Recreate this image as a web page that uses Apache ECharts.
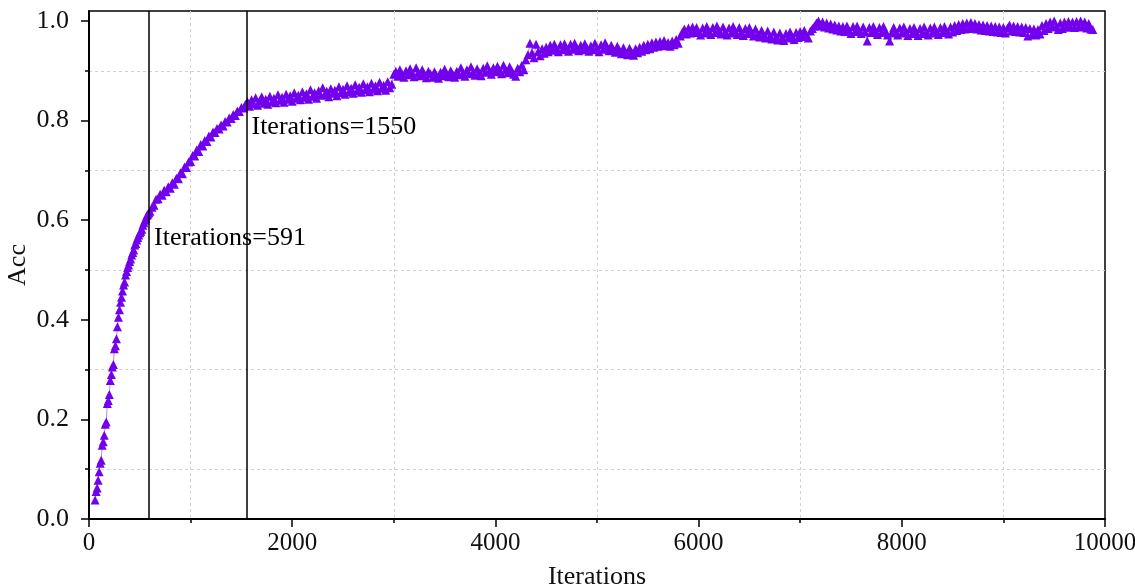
<!DOCTYPE html>
<html>
<head>
<meta charset="utf-8">
<script src="https://cdn.jsdelivr.net/npm/echarts@6/dist/echarts.min.js"></script>
<style>html,body{margin:0;padding:0;background:#fff}#c{width:1135px;height:586px}</style>
</head>
<body>
<div id="c"></div>
<script>
// Acc values, per segment: start iteration, step, values
const seg1Start = 60, seg1Step = 10;
const seg1 = [0.038,0.055,0.062,0.078,0.095,0.112,0.118,0.148,0.155,0.168,0.19,0.195,0.232,0.238,0.25,0.278,0.29,0.305,0.31,0.342,0.348,0.362,0.386,0.405,0.42,0.435,0.445,0.458,0.47,0.476,0.49,0.497,0.505,0.51,0.517,0.522,0.53,0.535,0.54,0.55,0.553,0.56,0.565,0.57,0.575,0.578,0.582,0.59,0.595,0.6,0.604,0.61,0.612,0.615,0.618];
const seg2Start = 620, seg2Step = 20;
const seg2 = [0.626,0.630,0.642,0.643,0.652,0.650,0.660,0.657,0.667,0.664,0.675,0.672,0.684,0.683,0.695,0.693,0.707,0.706,0.717,0.718,0.730,0.729,0.741,0.738,0.752,0.749,0.760,0.758,0.769,0.767,0.777,0.776,0.784,0.783,0.791,0.789,0.798,0.797,0.805,0.804,0.812,0.810,0.819,0.818,0.826,0.825,0.833];
const seg3Start = 1560, seg3Step = 20;
const seg3 = [0.838,0.829,0.842,0.834,0.846,0.831,0.840,0.848,0.835,0.843,0.833,0.849,0.838,0.845,0.836,0.852,0.841,0.847,0.837,0.853,0.843,0.850,0.839,0.856,0.845,0.851,0.842,0.858,0.847,0.854,0.843,0.862,0.849,0.856,0.845,0.860,0.851,0.866,0.852,0.859,0.848,0.864,0.855,0.861,0.850,0.868,0.856,0.863,0.853,0.870,0.858,0.865,0.855,0.872,0.860,0.867,0.857,0.874,0.862,0.868,0.858,0.875,0.863,0.870,0.860,0.877,0.865,0.871,0.861,0.878,0.866,0.873];
const seg4Start = 3000, seg4Step = 20;
const seg4 = [0.893,0.899,0.889,0.902,0.894,0.887,0.900,0.892,0.904,0.895,0.888,0.906,0.896,0.890,0.902,0.893,0.886,0.899,0.894,0.887,0.898,0.891,0.885,0.897,0.890,0.903,0.894,0.888,0.900,0.893,0.887,0.899,0.892,0.906,0.896,0.889,0.902,0.894,0.908,0.897,0.891,0.904,0.896,0.890,0.905,0.897,0.910,0.899,0.893,0.906,0.898,0.909,0.901,0.894,0.911,0.902,0.896,0.908,0.900,0.893,0.889,0.905,0.898,0.911,0.902];
const seg5Start = 4300, seg5Step = 20;
const seg5 = [0.922,0.932,0.955,0.936,0.926,0.953,0.938,0.930,0.944,0.935,0.947,0.938,0.951,0.941,0.953,0.944,0.938,0.952,0.942,0.954,0.945,0.939,0.953,0.943,0.955,0.946,0.940,0.951,0.942,0.954,0.946,0.939,0.950,0.942,0.955,0.945,0.938,0.952,0.943,0.956,0.947,0.940,0.951,0.943,0.937,0.949,0.941,0.934,0.946,0.938,0.932,0.945,0.937,0.931,0.944,0.936,0.947,0.939,0.951,0.942,0.953,0.944,0.956,0.947,0.958,0.949,0.959,0.950,0.961,0.951,0.957,0.949,0.960,0.952,0.963,0.955];
const seg6Start = 5820, seg6Step = 20;
const seg6 = [0.970,0.978,0.984,0.974,0.986,0.976,0.988,0.977,0.987,0.978,0.972,0.986,0.976,0.989,0.979,0.973,0.987,0.977,0.990,0.980,0.974,0.988,0.978,0.972,0.986,0.976,0.989,0.979,0.973,0.987,0.977,0.971,0.985,0.975,0.987,0.977,0.970,0.984,0.974,0.968,0.981,0.972,0.966,0.980,0.970,0.964,0.978,0.968,0.962,0.976,0.967,0.961,0.975,0.966,0.978,0.968,0.963,0.977,0.967,0.979,0.969,0.981,0.971,0.966,0.980,0.985,0.990,0.996];
const seg7Start = 7180, seg7Step = 20;
const seg7 = [1.000,0.990,0.998,0.988,0.996,0.986,0.994,0.984,0.992,0.982,0.990,0.980,0.989,0.979,0.990,0.981,0.975,0.989,0.979,0.990,0.980,0.975,0.988,0.978,0.960,0.987,0.977,0.989,0.979,0.973,0.987,0.977,0.989,0.978,0.972,0.960,0.976,0.987,0.977,0.972,0.986,0.976,0.988,0.977,0.971,0.985,0.975,0.987,0.976,0.971,0.985,0.975,0.988,0.977,0.972,0.986,0.976,0.988,0.978,0.973,0.987,0.977,0.989,0.979,0.974,0.988,0.978,0.991,0.981,0.993,0.983,0.995,0.984,0.996,0.985,0.997,0.986,0.995,0.984,0.993,0.982,0.992,0.981,0.991,0.980,0.990,0.979,0.989,0.978,0.988,0.977,0.987,0.976,0.986,0.992,0.980,0.990,0.979,0.989,0.978,0.988,0.977,0.987,0.970,0.985,0.973,0.984,0.972,0.983,0.974,0.991,0.981,0.995,0.985,0.998,0.988,1.000,0.989,0.983,0.996,0.985,0.998,0.988,0.999,0.988,0.998,0.987,0.999,0.988,1.000,0.989,0.998,0.986,0.995,0.984,0.983];

const markedIterations = [591, 1550];
const annotationTexts = ['Iterations=591', 'Iterations=1550'];
const annotationAcc = [0.563, 0.787];
const xTicks = [0, 2000, 4000, 6000, 8000, 10000];
const yTicks = [0, 0.2, 0.4, 0.6, 0.8, 1.0];

function build(start, step, vals) { return vals.map((v, i) => [start + i * step, v]); }
const points = [].concat(
  build(seg1Start, seg1Step, seg1), build(seg2Start, seg2Step, seg2),
  build(seg3Start, seg3Step, seg3), build(seg4Start, seg4Step, seg4),
  build(seg5Start, seg5Step, seg5), build(seg6Start, seg6Step, seg6),
  build(seg7Start, seg7Step, seg7));

const FONT = 'Liberation Serif';
const TXT = '#111';
const PURPLE = '#7200EC';
const gridDash = {show: true, lineStyle: {color: '#d2d2d2', width: 1, type: [3, 3]}};

const chart = echarts.init(document.getElementById('c'), null, {renderer: 'canvas'});
chart.setOption({
  animation: false,
  backgroundColor: '#fff',
  grid: {left: 89, right: 30, top: 11, bottom: 67, outerBoundsMode: 'none', containLabel: false,
    show: true, borderColor: '#000', borderWidth: 1.5, backgroundColor: 'transparent'},
  xAxis: {
    type: 'value', min: 0, max: 10000, interval: 2000,
    name: 'Iterations', nameLocation: 'middle', nameGap: 45, nameMoveOverlap: false,
    nameTextStyle: {fontFamily: FONT, fontSize: 26, color: TXT},
    axisLine: {show: true, lineStyle: {color: '#000', width: 2}},
    axisTick: {show: true, inside: false, length: 8, customValues: xTicks, lineStyle: {color: '#000', width: 1.5}},
    minorTick: {show: true, splitNumber: 2, length: 4, lineStyle: {color: '#000', width: 1.5}},
    splitLine: {show: false},
    minorSplitLine: gridDash,
    axisLabel: {fontFamily: FONT, fontSize: 25, color: TXT, margin: 12, customValues: xTicks,
      formatter: v => String(v)}
  },
  yAxis: {
    type: 'value', min: 0, max: 1.02, interval: 0.2,
    name: 'Acc', nameLocation: 'middle', nameGap: 58, nameRotate: 90, nameMoveOverlap: false,
    nameTextStyle: {fontFamily: FONT, fontSize: 26, color: TXT},
    axisLine: {show: true, lineStyle: {color: '#000', width: 2}},
    axisTick: {show: true, inside: false, length: 8, customValues: yTicks, lineStyle: {color: '#000', width: 1.5}},
    minorTick: {show: true, splitNumber: 2, length: 4, lineStyle: {color: '#000', width: 1.5}},
    splitLine: {show: false},
    minorSplitLine: gridDash,
    axisLabel: {fontFamily: FONT, fontSize: 26, color: TXT, margin: 20, customValues: yTicks,
      formatter: v => v.toFixed(1)}
  },
  series: [
    {
      type: 'line', data: points, symbol: 'triangle', symbolSize: 9, showSymbol: true,
      itemStyle: {color: PURPLE}, lineStyle: {color: '#b48cf0', width: 1},
      z: 3,
      markLine: {
        silent: true, symbol: 'none', animation: false,
        label: {show: false},
        lineStyle: {color: '#000', width: 1.5, type: 'solid'},
        data: markedIterations.map(v => ({xAxis: v}))
      }
    },
    {
      type: 'scatter', symbolSize: 0, z: 5, silent: true,
      data: markedIterations.map((v, i) => [v, annotationAcc[i], annotationTexts[i]]),
      itemStyle: {opacity: 1},
      label: {show: true, position: 'right', distance: 5, formatter: p => p.data[2],
        fontFamily: FONT, fontSize: 26, color: '#000', opacity: 1}
    }
  ]
});
</script>
</body>
</html>
